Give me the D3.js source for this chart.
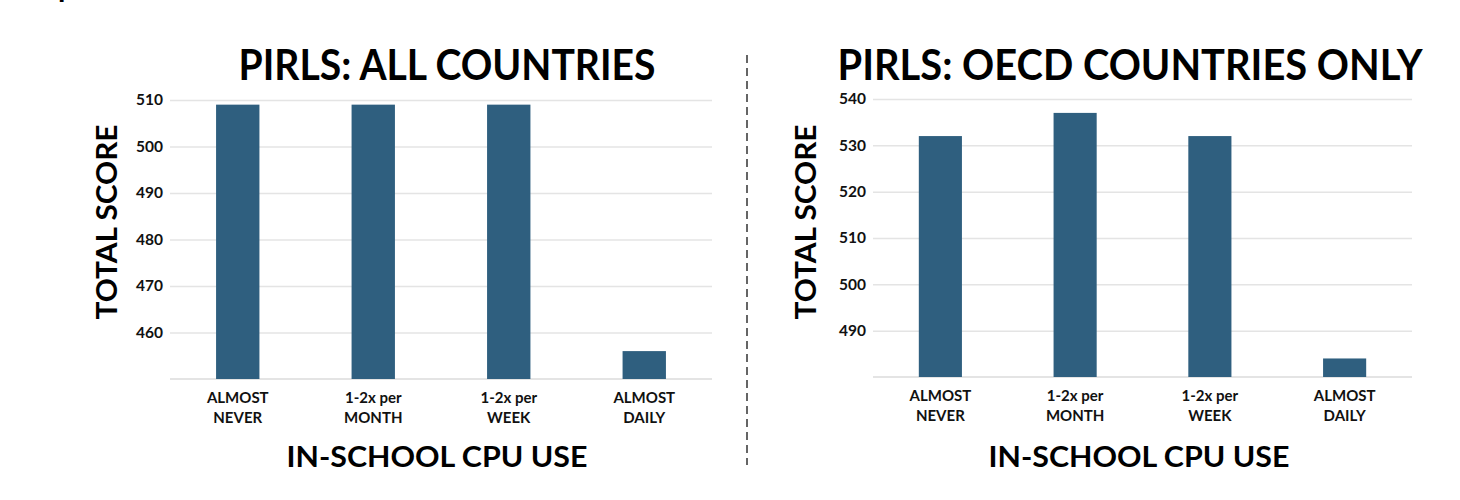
<!DOCTYPE html>
<html>
<head>
<meta charset="utf-8">
<script src="https://cdn.jsdelivr.net/npm/d3@7"></script>
<style>
  body { margin: 0; background: #fff; }
  text { font-family: "Lato", "DejaVu Sans", sans-serif; }
</style>
</head>
<body>
<div id="chart"></div>
<script>
// Data
const categories = ["ALMOST|NEVER", "1-2x per|MONTH", "1-2x per|WEEK", "ALMOST|DAILY"];
const allCountries = [509, 509, 509, 456];
const oecdCountries = [532, 537, 532, 484];
const allTicks = [460, 470, 480, 490, 500, 510];
const oecdTicks = [490, 500, 510, 520, 530, 540];

const width = 1460;
const height = 500;
const barColor = "#2f5f7f";
const gridColor = "#e4e4e4";

const svg = d3.create("svg")
    .attr("width", width)
    .attr("height", height)
    .attr("viewBox", [0, 0, width, height]);

// cropped fragment of text above the chart
svg.append("text")
    .attr("x", 58)
    .attr("y", -3)
    .attr("font-family", "Liberation Serif")
    .attr("font-weight", "bold")
    .attr("font-size", 30)
    .text("p");

function drawPanel(opts) {
    const g = svg.append("g");

    const x = d3.scaleBand()
        .domain(categories)
        .range([opts.left, opts.right])
        .paddingInner(0.68)
        .paddingOuter(0.34);

    const y = d3.scaleLinear()
        .domain(opts.domain)
        .range([opts.bottom, opts.top]);

    // gridlines + tick labels
    const yAxis = d3.axisLeft(y)
        .tickValues(opts.ticks)
        .tickSize(-(opts.right - opts.left))
        .tickPadding(7)
        .tickFormat(d3.format("d"));

    g.append("g")
        .attr("transform", `translate(${opts.left},0)`)
        .call(yAxis)
        .call(a => a.select(".domain").remove())
        .call(a => a.selectAll(".tick line")
            .attr("stroke", gridColor)
            .attr("stroke-width", 1.5))
        .call(a => a.selectAll(".tick text")
            .attr("fill", "#111")
            .attr("font-family", "Lato")
            .attr("font-weight", "bold")
            .attr("font-size", 15.5));

    // baseline
    g.append("line")
        .attr("x1", opts.left)
        .attr("x2", opts.right)
        .attr("y1", y(opts.domain[0]))
        .attr("y2", y(opts.domain[0]))
        .attr("stroke", gridColor)
        .attr("stroke-width", 2);

    // bars
    g.selectAll("rect")
        .data(opts.values)
        .join("rect")
        .attr("x", (d, i) => x(categories[i]))
        .attr("y", d => y(d))
        .attr("width", x.bandwidth())
        .attr("height", d => y(opts.domain[0]) - y(d))
        .attr("fill", barColor);

    // category labels
    const lab = g.selectAll(".cat")
        .data(categories)
        .join("text")
        .attr("class", "cat")
        .attr("text-anchor", "middle")
        .attr("font-weight", "bold")
        .attr("font-size", 15)
        .attr("fill", "#111");
    lab.append("tspan")
        .attr("x", d => x(d) + x.bandwidth() / 2)
        .attr("y", y(opts.domain[0]) + 24)
        .text(d => d.split("|")[0]);
    lab.append("tspan")
        .attr("x", d => x(d) + x.bandwidth() / 2)
        .attr("y", y(opts.domain[0]) + 44)
        .text(d => d.split("|")[1]);

    // title
    g.append("text")
        .attr("x", opts.titleX)
        .attr("y", 80)
        .attr("text-anchor", "middle")
        .attr("font-weight", "bold")
        .attr("font-size", 42)
        .attr("textLength", opts.titleLen)
        .attr("lengthAdjust", "spacingAndGlyphs")
        .text(opts.title);

    // y axis title
    g.append("text")
        .attr("transform", `translate(${opts.ylabX},222) rotate(-90)`)
        .attr("text-anchor", "middle")
        .attr("font-weight", "bold")
        .attr("font-size", 28)
        .attr("textLength", 195)
        .attr("lengthAdjust", "spacingAndGlyphs")
        .text("TOTAL SCORE");

    // x axis title
    g.append("text")
        .attr("x", opts.xlabX)
        .attr("y", 467)
        .attr("text-anchor", "middle")
        .attr("font-weight", "bold")
        .attr("font-size", 29)
        .attr("textLength", 301)
        .attr("lengthAdjust", "spacingAndGlyphs")
        .text("IN-SCHOOL CPU USE");
}

drawPanel({
    title: "PIRLS: ALL COUNTRIES",
    titleX: 447, titleLen: 417,
    values: allCountries, ticks: allTicks, domain: [450, 510],
    left: 170, right: 712, top: 100, bottom: 379,
    ylabX: 117, xlabX: 437
});

drawPanel({
    title: "PIRLS: OECD COUNTRIES ONLY",
    titleX: 1130, titleLen: 585,
    values: oecdCountries, ticks: oecdTicks, domain: [480, 540],
    left: 873, right: 1412, top: 99, bottom: 377,
    ylabX: 816, xlabX: 1139
});

// divider
svg.append("line")
    .attr("x1", 747).attr("x2", 747)
    .attr("y1", 55).attr("y2", 465)
    .attr("stroke", "#333")
    .attr("stroke-width", 1.5)
    .attr("stroke-dasharray", "8,5");

document.getElementById("chart").appendChild(svg.node());
</script>
</body>
</html>
